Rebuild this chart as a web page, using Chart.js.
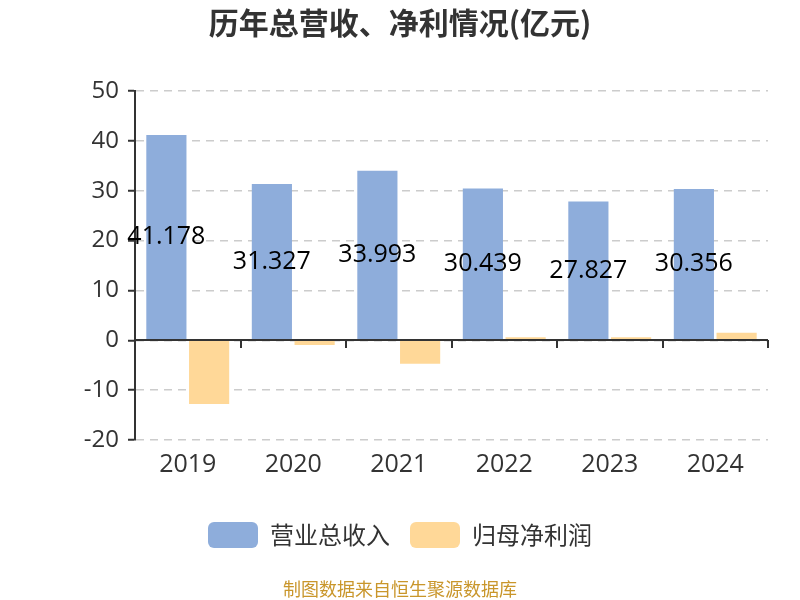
<!DOCTYPE html>
<html>
<head>
<meta charset="utf-8">
<script src="https://cdn.jsdelivr.net/npm/chart.js@4.4.0/dist/chart.umd.min.js"></script>
<style>
    body { margin: 0; background: #fff; }
    #wrap { width: 800px; height: 600px; }
</style>
</head>
<body>
<div id="wrap"><canvas id="barChart" width="800" height="600"></canvas></div>
<script>
const years = ["2019", "2020", "2021", "2022", "2023", "2024"];
const revenue = [41.178, 31.327, 33.993, 30.439, 27.827, 30.356];
const netProfit = [-12.8, -0.93, -4.73, 0.6, 0.6, 1.5];
const seriesNames = ["营业总收入", "归母净利润"];
const yTicks = [-20, -10, 0, 10, 20, 30, 40, 50];

const FONT = "'Open Sans', 'Noto Sans CJK SC', sans-serif";
const CJK = "'Noto Sans CJK SC', sans-serif";

// value labels in the middle of the revenue bars
const barLabels = {
    id: "barLabels",
    afterDatasetsDraw(chart) {
        let ctx = chart.ctx;
        let meta = chart.getDatasetMeta(0);
        ctx.save();
        ctx.font = "25px " + FONT;
        ctx.fillStyle = "#000";
        ctx.textAlign = "center";
        ctx.textBaseline = "middle";
        meta.data.forEach((bar, i) => {
            ctx.fillText(revenue[i].toFixed(3), bar.x, (bar.y + bar.base) / 2);
        });
        ctx.restore();
    }
};

// x axis line drawn at zero, with tick marks between categories
const zeroAxis = {
    id: "zeroAxis",
    afterDatasetsDraw(chart) {
        let ctx = chart.ctx;
        let area = chart.chartArea;
        let y0 = Math.round(chart.scales.y.getPixelForValue(0));
        ctx.save();
        ctx.strokeStyle = "#333";
        ctx.lineWidth = 2;
        ctx.beginPath();
        ctx.moveTo(area.left, y0);
        ctx.lineTo(area.right, y0);
        let step = (area.right - area.left) / years.length;
        for (let i = 1; i <= years.length; i++) {
            let x = Math.round(area.left + i * step);
            ctx.moveTo(x, y0);
            ctx.lineTo(x, y0 + 8);
        }
        ctx.stroke();
        ctx.restore();
    }
};

const footer = {
    id: "footer",
    afterDraw(chart) {
        let ctx = chart.ctx;
        ctx.save();
        ctx.font = "18px " + CJK;
        ctx.fillStyle = "#c9962b";
        ctx.textAlign = "center";
        ctx.textBaseline = "middle";
        ctx.fillText("制图数据来自恒生聚源数据库", 400, 589);
        ctx.restore();
    }
};

new Chart(document.getElementById("barChart").getContext("2d"), {
    type: "bar",
    data: {
        labels: years,
        datasets: [
            { label: seriesNames[0], data: revenue, backgroundColor: "#8eaddb" },
            { label: seriesNames[1], data: netProfit, backgroundColor: "#ffd898" }
        ]
    },
    options: {
        responsive: false,
        devicePixelRatio: 1,
        animation: false,
        categoryPercentage: 0.81,
        barPercentage: 0.94,
        layout: { padding: { left: 32, right: 32, top: 0, bottom: 42 } },
        scales: {
            x: {
                grid: { display: false },
                border: { display: false },
                afterFit: scale => { scale.height = 62; },
                ticks: { color: "#333", font: { family: FONT, size: 25 }, padding: 2 }
            },
            y: {
                min: -20,
                max: 50,
                afterBuildTicks: scale => { scale.ticks = yTicks.map(v => ({ value: v })); },
                afterFit: scale => { scale.width = 103; },
                border: { display: true, color: "#333", width: 2, dash: [8, 6] },
                grid: {
                    color: "#ccc",
                    lineWidth: 1.5,
                    tickColor: "#333",
                    tickLength: 7,
                    tickWidth: 2,
                    tickBorderDash: []
                },
                ticks: { color: "#333", font: { family: FONT, size: 24 }, padding: 9 }
            }
        },
        plugins: {
            title: {
                display: true,
                text: "历年总营收、净利情况(亿元)",
                color: "#333",
                font: { family: CJK, size: 30, weight: "bold" },
                padding: { top: 5, bottom: 50 }
            },
            legend: {
                position: "bottom",
                labels: {
                    boxWidth: 50,
                    boxHeight: 26,
                    useBorderRadius: true,
                    borderRadius: 6,
                    color: "#333",
                    padding: 20,
                    font: { family: CJK, size: 24 }
                }
            },
            tooltip: { enabled: false }
        }
    },
    plugins: [barLabels, zeroAxis, footer]
});
</script>
</body>
</html>
